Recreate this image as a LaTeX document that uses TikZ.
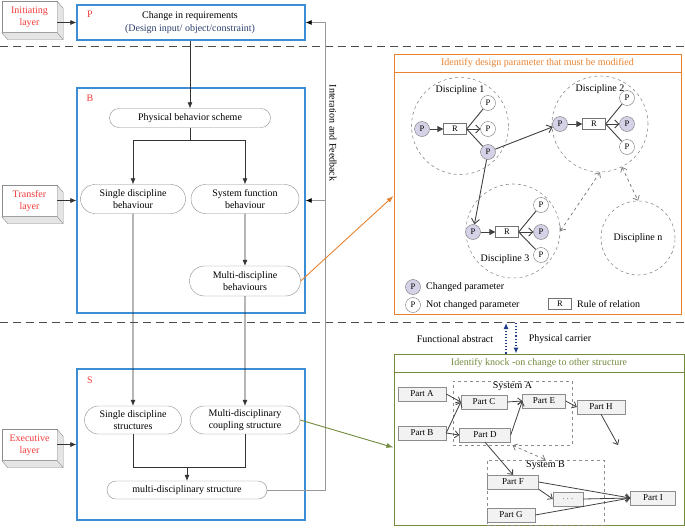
\documentclass[tikz,border=0pt]{standalone}
\usepackage{fontspec}
\setmainfont{Liberation Serif}
\usetikzlibrary{arrows.meta, positioning, calc, shapes.misc}
\definecolor{stageblue}{HTML}{3B8DD4}
\definecolor{tagred}{HTML}{F23B3B}
\definecolor{paramorange}{HTML}{E8822F}
\definecolor{knockgreen}{HTML}{728A3C}
\definecolor{changedfill}{HTML}{D5D1E6}
\definecolor{carrierblue}{HTML}{1D3A84}
\definecolor{inputblue}{HTML}{2B3F6B}
\tikzset{
  layersep/.style={dash pattern=on 8pt off 5pt, black!70, line width=0.9pt},
  stage/.style={draw=stageblue, line width=1.3pt},
  stagetag/.style={text=tagred},
  layerbox/.style={draw=black!45, fill=white, minimum width=55pt, minimum height=31pt, align=center, text=tagred, inner sep=1pt},
  pill/.style={rounded rectangle, draw=black!45, fill=white, align=center, inner sep=1pt},
  flow/.style={draw=black!80, line width=0.6pt, -{Latex[length=6pt,width=5pt]}},
  link/.style={draw=black!80, line width=0.6pt},
  feedback/.style={draw=black!40, line width=0.8pt},
  boxframe/.style={line width=1pt},
  discfield/.style={circle, draw=black!45, dashed, line width=0.6pt},
  param/.style={circle, draw=black!55, fill=white, minimum size=15pt, inner sep=0pt, font=\fontsize{8.5}{9}\selectfont},
  changed/.style={param, fill=changedfill},
  relbox/.style={draw=black!55, fill=white, minimum width=23pt, minimum height=11pt, inner sep=0pt, font=\fontsize{8.5}{9}\selectfont},
  transfer/.style={draw=black!75, line width=0.9pt},
  bothway/.style={dashed, draw=black!55, line width=0.7pt, {Straight Barb[length=4pt,width=7pt]}-{Straight Barb[length=4pt,width=7pt]}},
  partbox/.style={draw=black!45, fill=black!5, minimum height=14pt, inner sep=1pt, font=\fontsize{9}{10}\selectfont},
  knockarrow/.style={draw=black!75, line width=0.8pt, -{Straight Barb[length=4pt,width=7pt]}},
  sysframe/.style={draw=black!45, dashed, line width=0.6pt},
  carrier/.style={draw=carrierblue, dotted, line width=1.1pt, -{Latex[length=6pt,width=5pt]}},
}

\begin{document}
\begin{tikzpicture}[x=1pt, y=-1pt, font=\fontsize{10}{12}\selectfont]
  \useasboundingbox (0,0) rectangle (685,528);

  % Layer separators
  \draw[layersep] (0,46.5) -- (685,46.5);
  \draw[layersep] (0,322) -- (685,322);

  % Layers
  \node[layerbox] (init) at (29.5,17) {Initiating\\layer};
  \node[layerbox] (trans) at (29.5,201) {Transfer\\layer};
  \node[layerbox] (exec) at (29.5,445) {Executive\\layer};
  \foreach \lay in {init,trans,exec}
    \filldraw[fill=black!10, draw=black!45] (\lay.north east) -- ++(6,7) -- ($(\lay.south east)+(6,7)$) -- ($(\lay.south west)+(6,7)$) -- (\lay.south west) -- (\lay.south east) -- cycle
      (\lay.south east) -- ++(6,7);

  % Stage frames
  \node[stage, minimum width=228pt, minimum height=35pt] (stageP) at (191,22.5) {};
  \node[stage, minimum width=228pt, minimum height=225pt] (stageB) at (191,200.5) {};
  \node[stage, minimum width=228pt, minimum height=151pt] (stageS) at (191,444.5) {};
  \node[stagetag] (tagP) at (90,14) {P};
  \node[stagetag] (tagB) at (90,98) {B};
  \node[stagetag] (tagS) at (90,380) {S};
  \node[align=center, font=\fontsize{10}{13}\selectfont] (req) at (190,22.5) {Change in requirements\\\textcolor{inputblue}{(Design input/ object/constraint)}};

  \draw[flow] (init.east |- stageP.west) -- (stageP.west);
  \draw[flow] (trans.east |- stageB.west) -- (stageB.west);
  \draw[flow] (exec.east |- stageS.west) -- (stageS.west);

  % Behaviour
  \node[pill, minimum width=163pt, minimum height=19pt] (phys) at (190,118) {Physical behavior scheme};
  \node[pill, minimum width=107pt, minimum height=29pt] (sdb) at (133,199) {Single discipline\\behaviour};
  \node[pill, minimum width=110pt, minimum height=29pt] (sfb) at (245,199) {System function\\behaviour};
  \node[pill, minimum width=113pt, minimum height=30pt] (mdb) at (245,281) {Multi-discipline\\behaviours};

  % Structure
  \node[pill, minimum width=99pt, minimum height=28pt] (sds) at (133,420) {Single discipline\\structures};
  \node[pill, minimum width=112pt, minimum height=28pt] (mcs) at (245,420) {Multi-disciplinary\\coupling structure};
  \node[pill, minimum width=162pt, minimum height=18pt] (mds) at (187,490) {multi-disciplinary structure};

  % Flow
  \draw[flow] (phys.north |- stageP.south) -- (phys.north);
  \coordinate (split) at ($(phys.south)+(0,13)$);
  \draw[link] (phys.south) -- (split);
  \draw[flow] (split) -| (sdb.north);
  \draw[flow] (split) -| (sfb.north);
  \draw[flow] (sfb) -- (mdb);
  \draw[flow] (sdb) -- (sds);
  \draw[flow] (mdb) -- (mcs);
  \coordinate (merge) at ($(sds.south)+(0,33)$);
  \draw[link] (sds.south) -- (merge) -| (mcs.south);
  \draw[flow] (mds.north |- merge) -- (mds.north);

  % Feedback
  \coordinate (fbline) at (325,0);
  \draw[feedback, -{Latex[length=6pt,width=5pt,black]}] (mds.east) -| (fbline |- stageP.east) -- (stageP.east);
  \draw[feedback, -{Latex[length=6pt,width=5pt,black]}] (fbline |- stageB.east) -- (stageB.east);
  \node[rotate=-90] (fbtext) at (333,133) {Interation and Feedback};

  % Parameter panel
  \node[draw=paramorange, boxframe, minimum width=287pt, minimum height=260pt] (paramBox) at (537.5,184) {};
  \node[draw=paramorange, boxframe, minimum width=287pt, minimum height=18pt, anchor=north, text=paramorange] (paramHead) at (paramBox.north) {Identify design parameter that must be modified};

  \node[discfield, minimum size=97pt] (disc1) at (460,126) {};
  \node[discfield, minimum size=96pt] (disc2) at (600,124) {};
  \node[discfield, minimum size=94pt] (disc3) at (513,231) {};
  \node[discfield, minimum size=74pt] (discn) at (638,238) {Discipline n};
  \node (disc1lab) at (460,90) {Discipline 1};
  \node (disc2lab) at (600,89) {Discipline 2};
  \node (disc3lab) at (505,259) {Discipline 3};

  \node[changed] (d1in) at (422,129) {P};
  \node[relbox] (d1r) at (455,129) {R};
  \node[param] (d1a) at (488,103) {P};
  \node[param] (d1b) at (488,129) {P};
  \node[changed] (d1c) at (488,152) {P};
  \draw[transfer, -{Triangle[length=6pt,width=6pt]}] (d1in) -- (d1r);
  \draw[transfer, -{Straight Barb[length=4pt,width=8pt]}] (d1r) -- (d1b);
  \draw[transfer] (d1r.east) -- (d1a) (d1r.east) -- (d1c);

  \node[changed] (d2in) at (560,124) {P};
  \node[relbox] (d2r) at (594,124) {R};
  \node[param] (d2a) at (627,98) {P};
  \node[changed] (d2b) at (627,124) {P};
  \node[param] (d2c) at (627,147) {P};
  \draw[transfer, -{Triangle[length=6pt,width=6pt]}] (d2in) -- (d2r);
  \draw[transfer, -{Straight Barb[length=4pt,width=8pt]}] (d2r) -- (d2b);
  \draw[transfer] (d2r.east) -- (d2a) (d2r.east) -- (d2c);

  \node[changed] (d3in) at (473,232) {P};
  \node[relbox] (d3r) at (507,232) {R};
  \node[param] (d3a) at (541,205) {P};
  \node[changed] (d3b) at (541,232) {P};
  \node[param] (d3c) at (541,255) {P};
  \draw[transfer, -{Triangle[length=6pt,width=6pt]}] (d3in) -- (d3r);
  \draw[transfer, -{Straight Barb[length=4pt,width=8pt]}] (d3r) -- (d3b);
  \draw[transfer] (d3r.east) -- (d3a) (d3r.east) -- (d3c);

  \draw[transfer, -{Straight Barb[length=5pt,width=8pt]}] (d1c) -- (d2in);
  \draw[transfer, -{Straight Barb[length=5pt,width=8pt]}] (d1c) -- (d3in);
  \draw[bothway] (disc2.south) -- (disc3.east);
  \draw[bothway] (disc2.-63) -- (discn.north);

  % Legend
  \node[changed] (lgC) at (413,287) {P};
  \node[right=2pt of lgC] (lgCtext) {Changed parameter};
  \node[param] (lgN) at (413,305) {P};
  \node[right=2pt of lgN] (lgNtext) {Not changed parameter};
  \node[relbox] (lgR) at (560,304) {R};
  \node[right=2pt of lgR] (lgRtext) {Rule of relation};

  % Knock-on panel
  \node[draw=knockgreen, boxframe, minimum width=290pt, minimum height=171pt] (knockBox) at (539,439.5) {};
  \node[draw=knockgreen, boxframe, minimum width=290pt, minimum height=18pt, anchor=north, text=knockgreen] (knockHead) at (knockBox.north) {Identify knock -on change to other structure};

  \node[sysframe, minimum width=119pt, minimum height=64pt, label={[anchor=north, inner sep=1pt]north:System A}] (sysA) at (512.5,413) {};
  \node[sysframe, minimum width=117pt, minimum height=65pt, label={[anchor=north, inner sep=1pt]north:System B}] (sysB) at (545.5,492.5) {};

  \node[partbox, minimum width=48pt] (pA) at (422,394) {Part A};
  \node[partbox, minimum width=48pt] (pB) at (422,433) {Part B};
  \node[partbox, minimum width=46pt] (pC) at (484,402) {Part C};
  \node[partbox, minimum width=51pt] (pD) at (485,435) {Part D};
  \node[partbox, minimum width=43pt] (pE) at (544,401) {Part E};
  \node[partbox, minimum width=48pt] (pH) at (601,407) {Part H};
  \node[partbox, minimum width=51pt] (pF) at (513,482) {Part F};
  \node[partbox, minimum width=48pt] (pG) at (511,515) {Part G};
  \node[partbox, minimum width=30pt] (pDots) at (568,499) {$\cdots$};
  \node[partbox, minimum width=45pt] (pI) at (653,498) {Part I};
  \coordinate (hOut) at (618,445);

  \draw[knockarrow] (pA.east) -- (pC.west);
  \draw[knockarrow] (pB.east) -- (pC.west);
  \draw[knockarrow] (pB.east) -- (pD.west);
  \draw[knockarrow] (pC.east) -- (pE.west);
  \draw[knockarrow] (pD.east) -- (pE.west);
  \draw[knockarrow] (pE.east) -- (pH.west);
  \draw[knockarrow] (pH.south) -- (hOut);
  \draw[knockarrow] (pD.south) -- (pF.north);
  \draw[knockarrow] (pF.south east) -- (pDots.west);
  \draw[knockarrow] (pF.east) -- (pI.west);
  \draw[knockarrow] (pDots.east) -- (pI.west);
  \draw[knockarrow] (pG.east) -- (pI.west);
  \draw[bothway] (sysA.south) -- (sysB.north);

  % Between panels
  \coordinate (absUp) at (506,323);
  \coordinate (carDown) at (516,323);
  \draw[carrier] (knockBox.north -| absUp) -- (absUp);
  \draw[carrier] (carDown) -- (knockBox.north -| carDown);
  \node (absText) at (455,339) {Functional abstract};
  \node (carText) at (560,339) {Physical carrier};

  % Links to the panels
  \draw[paramorange, line width=0.9pt, -{Latex[length=7pt,width=5pt]}] (mdb.east) -- ($(paramBox.west)+(0,12)$);
  \draw[knockgreen, line width=0.9pt, -{Latex[length=7pt,width=5pt]}] (mcs.east) -- ($(knockBox.west)+(0,8)$);
\end{tikzpicture}
\end{document}
